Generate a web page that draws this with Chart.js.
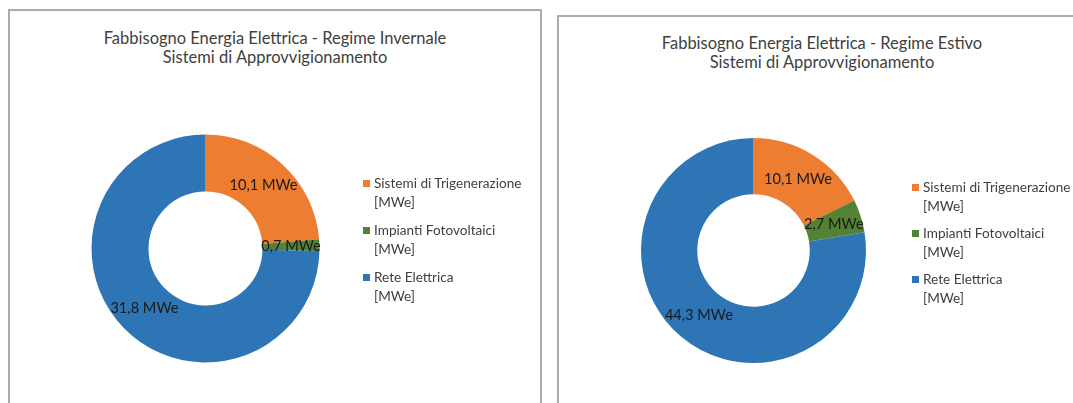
<!DOCTYPE html>
<html lang="it">
<head>
<meta charset="utf-8">
<title>Fabbisogno Energia Elettrica</title>
<script src="https://cdn.jsdelivr.net/npm/chart.js@4.4.1/dist/chart.umd.min.js"></script>
<style>
  html, body { margin: 0; padding: 0; background: #fff; overflow: hidden; }
  body { width: 1073px; height: 403px; position: relative; font-family: Lato, "Open Sans", sans-serif; }
  .pannello {
    position: absolute; box-sizing: border-box;
    border: 2px solid #ababab; background: #fff;
  }
  .pannello canvas { position: absolute; left: 0; top: 0; }
  .titolo {
    position: absolute; left: 0; right: 0; text-align: center;
    font-size: 16.5px; line-height: 19px; color: #404040;
  }
  .legenda { position: absolute; font-size: 13.6px; line-height: 19px; color: #404040; white-space: nowrap; }
  .legenda .voce { position: relative; padding-left: 11px; margin-bottom: 9px; }
  #legEstate .voce { margin-bottom: 8px; }
  .legenda .quadro { position: absolute; left: 0; top: 6px; width: 7px; height: 7px; }
</style>
</head>
<body>

<div class="pannello" id="p1" style="left:8px; top:9px; width:534px; height:420px;">
  <div class="titolo" style="top:18px;">Fabbisogno Energia Elettrica - Regime Invernale<br>Sistemi di Approvvigionamento</div>
  <canvas id="chartInverno"></canvas>
  <div class="legenda" id="legInverno" style="left:353px; top:163px;"></div>
</div>

<div class="pannello" id="p2" style="left:557px; top:15px; width:530px; height:420px;">
  <div class="titolo" style="top:17px;">Fabbisogno Energia Elettrica - Regime Estivo<br>Sistemi di Approvvigionamento</div>
  <canvas id="chartEstate"></canvas>
  <div class="legenda" id="legEstate" style="left:353px; top:161px;"></div>
</div>

<script>
// dati (MWe)
const categorie = [
  ['Sistemi di Trigenerazione', '[MWe]'],
  ['Impianti Fotovoltaici', '[MWe]'],
  ['Rete Elettrica', '[MWe]']
];
const valoriInverno = [10.1, 0.7, 31.8];
const valoriEstate = [10.1, 2.7, 44.3];
const colori = ['#ED7D31', '#548235', '#2E75B6'];
const unita = ' MWe';

// etichette dei valori al centro di ogni spicchio
const etichette = {
  id: 'etichette',
  afterDatasetsDraw(chart) {
    const ctx = chart.ctx;
    const meta = chart.getDatasetMeta(0);
    const valori = chart.data.datasets[0].data;
    ctx.save();
    ctx.font = '14.6px Lato, "Open Sans", sans-serif';
    ctx.fillStyle = '#1a1a1a';
    ctx.textAlign = 'center';
    ctx.textBaseline = 'middle';
    meta.data.forEach((arc, i) => {
      const p = arc.getCenterPoint();
      const txt = valori[i].toFixed(1).replace('.', ',') + unita;
      ctx.fillText(txt, p.x, p.y);
    });
    ctx.restore();
  }
};

let creaLegenda = (idLeg) => {
  const box = document.getElementById(idLeg);
  categorie.forEach((righe, i) => {
    const voce = document.createElement('div');
    voce.className = 'voce';
    voce.innerHTML = '<span class="quadro" style="background:' + colori[i] + '"></span>' + righe.join('<br>');
    box.appendChild(voce);
  });
};

let creaGrafico = (idCanvas, valori, w, h, pad) => {
  const cv = document.getElementById(idCanvas);
  cv.style.width = w + 'px';
  cv.style.height = h + 'px';
  cv.width = w;
  cv.height = h;
  return new Chart(cv, {
    type: 'doughnut',
    data: {
      labels: categorie.map(r => r.join(' ')),
      datasets: [{
        data: valori,
        backgroundColor: colori,
        borderWidth: 0
      }]
    },
    options: {
      responsive: false,
      animation: false,
      cutout: '50%',
      layout: { padding: pad },
      plugins: {
        legend: { display: false },
        title: { display: false },
        tooltip: { enabled: false }
      }
    },
    plugins: [etichette]
  });
};

creaGrafico('chartInverno', valoriInverno, 530, 400,
  { left: 81.5, top: 123.5, right: 220.5, bottom: 48.5 });
creaGrafico('chartEstate', valoriEstate, 526, 400,
  { left: 82, top: 121, right: 219, bottom: 54 });
creaLegenda('legInverno');
creaLegenda('legEstate');
</script>
</body>
</html>
